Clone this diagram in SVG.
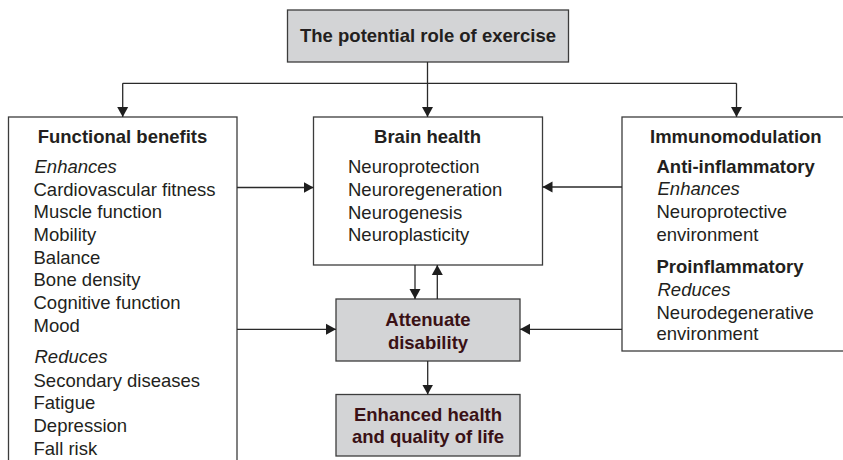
<svg xmlns="http://www.w3.org/2000/svg" width="843" height="460" viewBox="0 0 843 460">
  <style>
    .box { fill: #ffffff; stroke: #3c3c3c; stroke-width: 1.3; }
    .grey { fill: #d3d4d6; stroke: #3c3c3c; stroke-width: 1.3; }
    .conn { fill: none; stroke: #2a2a2a; stroke-width: 1.3; }
    text { font-family: "Liberation Sans", Arial, Helvetica, sans-serif; font-size: 18.5px; fill: #231f20; }
    .b { font-weight: bold; }
    .i { font-style: italic; }
    .mid { text-anchor: middle; }
    .dark { fill: #3a1115; font-weight: bold; }
  </style>
  <defs>
    <marker id="arrow" markerUnits="userSpaceOnUse" markerWidth="11" markerHeight="12" refX="10" refY="6" orient="auto">
      <path d="M0,0.5 L10,6 L0,11.5 z" fill="#1e1e1e"/>
    </marker>
  </defs>

  <!-- root node -->
  <g id="exercise">
    <rect class="grey" x="287.5" y="10" width="281" height="52"/>
    <text class="b mid" x="428" y="42">The potential role of exercise</text>
  </g>

  <!-- functional benefits (box runs past the bottom edge) -->
  <g id="functional">
    <rect class="box" x="8.5" y="117" width="228.5" height="360"/>
    <text class="b mid" x="122.5" y="143">Functional benefits</text>
    <text class="i" x="34.5" y="172.5">Enhances</text>
    <text x="33.5" y="195.5">Cardiovascular fitness</text>
    <text x="33.5" y="218.3">Muscle function</text>
    <text x="33.5" y="241">Mobility</text>
    <text x="33.5" y="263.7">Balance</text>
    <text x="33.5" y="286.3">Bone density</text>
    <text x="33.5" y="309">Cognitive function</text>
    <text x="33.5" y="331.7">Mood</text>
    <text class="i" x="34.5" y="363">Reduces</text>
    <text x="33.5" y="386.5">Secondary diseases</text>
    <text x="33.5" y="409.2">Fatigue</text>
    <text x="33.5" y="431.9">Depression</text>
    <text x="33.5" y="454.6">Fall risk</text>
  </g>

  <!-- brain health -->
  <g id="brain">
    <rect class="box" x="313.5" y="117" width="229" height="148"/>
    <text class="b mid" x="427.5" y="142.5">Brain health</text>
    <text x="348" y="173.3">Neuroprotection</text>
    <text x="348" y="196">Neuroregeneration</text>
    <text x="348" y="218.7">Neurogenesis</text>
    <text x="348" y="241.4">Neuroplasticity</text>
  </g>

  <!-- immunomodulation (box runs past the right edge) -->
  <g id="immuno">
    <rect class="box" x="622" y="117" width="240" height="234"/>
    <text class="b" x="650" y="142.7">Immunomodulation</text>
    <text class="b" x="656.5" y="172.7">Anti-inflammatory</text>
    <text class="i" x="657.5" y="195.4">Enhances</text>
    <text x="656.5" y="218">Neuroprotective</text>
    <text x="656.5" y="240.7">environment</text>
    <text class="b" x="656.5" y="273.3">Proinflammatory</text>
    <text class="i" x="657.5" y="296">Reduces</text>
    <text x="656.5" y="318.7">Neurodegenerative</text>
    <text x="656.5" y="340">environment</text>
  </g>

  <!-- outcomes -->
  <g id="attenuate">
    <rect class="grey" x="336" y="299" width="184" height="62"/>
    <text class="dark mid" x="428" y="326">Attenuate</text>
    <text class="dark mid" x="428" y="348.5">disability</text>
  </g>
  <g id="enhanced">
    <rect class="grey" x="336" y="394.5" width="184" height="61.5"/>
    <text class="dark mid" x="428" y="421">Enhanced health</text>
    <text class="dark mid" x="428" y="443">and quality of life</text>
  </g>

  <!-- connectors -->
  <g id="connectors">
    <path class="conn" d="M427.5,62 V117" marker-end="url(#arrow)"/>
    <path class="conn" d="M122.7,83.3 H736.5"/>
    <path class="conn" d="M122.7,83.3 V117" marker-end="url(#arrow)"/>
    <path class="conn" d="M736.5,83.3 V117" marker-end="url(#arrow)"/>
    <path class="conn" d="M237,187.5 H313.5" marker-end="url(#arrow)"/>
    <path class="conn" d="M622,187 H542.5" marker-end="url(#arrow)"/>
    <path class="conn" d="M237,329.3 H336" marker-end="url(#arrow)"/>
    <path class="conn" d="M622,329.3 H520" marker-end="url(#arrow)"/>
    <path class="conn" d="M415,265 V299" marker-end="url(#arrow)"/>
    <path class="conn" d="M437.3,299 V265" marker-end="url(#arrow)"/>
    <path class="conn" d="M427.7,361 V394.5" marker-end="url(#arrow)"/>
  </g>
</svg>
